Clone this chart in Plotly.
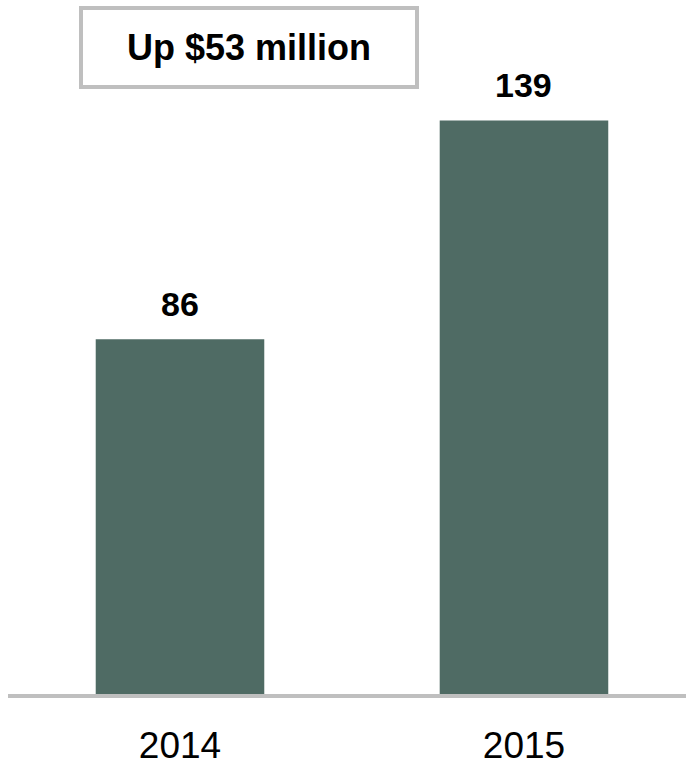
import plotly.graph_objects as go

years = ["2014", "2015"]
values = [86, 139]
headline = "Up $53 million"

bar_color = "#4F6B64"
grid_gray = "#BFBFBF"
font_family = "Liberation Sans, Arial, sans-serif"

fig = go.Figure()
fig.add_trace(go.Bar(
    x=years, y=values, width=0.49,
    marker=dict(color=bar_color, line=dict(width=0)),
    hoverinfo="skip",
))

for i, v in enumerate(values):
    fig.add_annotation(
        x=i, y=v, xref="x", yref="y", text=f"<b>{v}</b>",
        showarrow=False, yanchor="bottom", yshift=14,
        font=dict(family=font_family, size=34, color="black"),
    )

fig.add_annotation(
    xref="paper", yref="paper", x=(249 - 8) / 678, y=1 - 47.5 / 694,
    xanchor="center", yanchor="middle",
    text=f"<b>{headline}</b>", showarrow=False,
    font=dict(family=font_family, size=36, color="black"),
    bordercolor=grid_gray, borderwidth=4, borderpad=0,
    bgcolor="white", width=332, height=75,
)

fig.update_layout(
    width=686, height=769,
    margin=dict(l=8, r=0, t=0, b=75),
    paper_bgcolor="white", plot_bgcolor="white",
    showlegend=False,
    xaxis=dict(
        type="category", range=[-0.5, 1.471], automargin=False,
        showline=True, linecolor=grid_gray, linewidth=4,
        showgrid=False, zeroline=False, ticks="",
        tickfont=dict(family=font_family, size=37, color="black"),
        ticklabelstandoff=16,
    ),
    yaxis=dict(
        range=[0, 168.2], visible=False, showgrid=False, zeroline=False,
        automargin=False,
    ),
)

fig.write_html("out.html")
